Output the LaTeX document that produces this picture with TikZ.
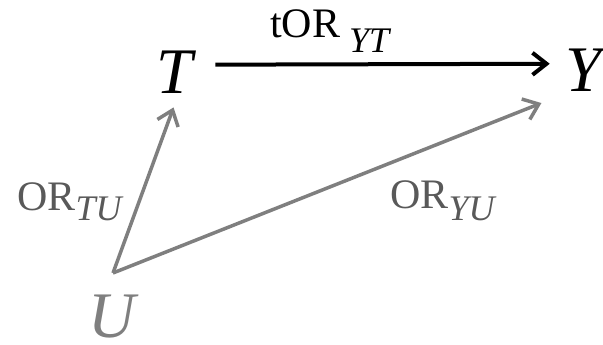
\documentclass[tikz,border=0pt]{standalone}
\usepackage{fontspec}
\setmainfont{Liberation Serif}
\newfontfamily\varfont{Liberation Serif}
\usetikzlibrary{arrows.meta}
\definecolor{ink}{HTML}{000000}
\definecolor{cause}{HTML}{7F7F7F}
\definecolor{tag}{HTML}{595959}
\tikzset{fig/.style={line join=round,>={Straight Barb[length=14pt,width=22pt]}},
  var/.style={font=\fontsize{65}{65}\varfont\itshape,inner sep=2pt,anchor=base},
  ortag/.style={font=\fontsize{42}{42}\selectfont,inner sep=0pt,anchor=base west}}
\newcommand{\sub}[2]{\raisebox{-#1}{\fontsize{36}{36}\varfont\itshape #2}}

\begin{document}
\begin{tikzpicture}[fig,x=1pt,y=-1pt]
  \useasboundingbox (0,0) rectangle (603,345);
  \node[var,ink] (T) at (175,93) {T};
  \node[var,ink] (Y) at (584,92) {Y};
  \node[var,cause,inner sep=0pt] (U) at (112,337) {U};
  \coordinate (u) at (113,273);
  \draw[ink,line width=4pt,->,shorten <=20pt,shorten >=14pt]([yshift=7pt]T.east)--([yshift=7pt]Y.west);
  \draw[cause,line width=3.5pt,->,shorten >=13pt](u)--([xshift=3pt]T.south);
  \draw[cause,line width=3.5pt,->,shorten >=24pt](u)--(Y.south west);
  \node[ortag,ink] (tor) at (270,38) {tOR\hspace{9pt}\sub{15pt}{YT}};
  \node[ortag,tag] (ortu) at (17,210) {OR\sub{10pt}{TU}};
  \node[ortag,tag] (oryu) at (390,208) {OR\sub{12pt}{YU}};
\end{tikzpicture}
\end{document}
